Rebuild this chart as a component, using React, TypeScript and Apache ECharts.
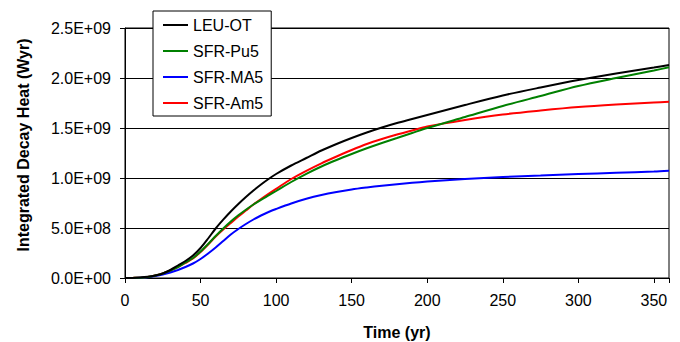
import React, { useEffect, useRef } from "react";
import * as echarts from "echarts";

// Time (yr)
const years = [0, 5, 10, 15, 20, 25, 30, 35, 40, 45, 50, 55, 60, 65, 70, 75, 80, 85, 90, 95, 100, 110, 120, 130, 140, 150, 160, 170, 180, 190, 200, 225, 250, 275, 300, 325, 350, 360];

// Integrated decay heat, in units of 1E+09 Wyr
const leuOT = [0, 0.001, 0.005, 0.012, 0.025, 0.045, 0.08, 0.125, 0.17, 0.225, 0.3, 0.395, 0.495, 0.583, 0.665, 0.74, 0.81, 0.875, 0.935, 0.99, 1.04, 1.125, 1.2, 1.275, 1.34, 1.4, 1.455, 1.505, 1.55, 1.59, 1.63, 1.73, 1.825, 1.905, 1.98, 2.045, 2.105, 2.13];
const sfrPu5 = [0, 0.001, 0.003, 0.01, 0.025, 0.045, 0.075, 0.11, 0.155, 0.2, 0.265, 0.34, 0.42, 0.495, 0.565, 0.627, 0.683, 0.735, 0.782, 0.826, 0.87, 0.96, 1.042, 1.115, 1.18, 1.24, 1.297, 1.35, 1.4, 1.45, 1.5, 1.61, 1.72, 1.82, 1.92, 2.0, 2.075, 2.107];
const sfrMA5 = [0, 0.0005, 0.002, 0.008, 0.02, 0.035, 0.055, 0.08, 0.11, 0.145, 0.19, 0.245, 0.305, 0.37, 0.435, 0.49, 0.54, 0.585, 0.625, 0.66, 0.69, 0.745, 0.792, 0.83, 0.86, 0.885, 0.905, 0.923, 0.938, 0.952, 0.964, 0.99, 1.01, 1.025, 1.04, 1.052, 1.065, 1.073];
const sfrAm5 = [0, 0.001, 0.003, 0.01, 0.025, 0.045, 0.075, 0.11, 0.15, 0.195, 0.26, 0.335, 0.415, 0.485, 0.55, 0.615, 0.675, 0.735, 0.79, 0.842, 0.892, 0.99, 1.072, 1.147, 1.215, 1.28, 1.34, 1.39, 1.435, 1.475, 1.515, 1.58, 1.635, 1.675, 1.71, 1.735, 1.755, 1.763];

const seriesNames = ["LEU-OT", "SFR-Pu5", "SFR-MA5", "SFR-Am5"];
const seriesColors = ["#000000", "#008000", "#0000FF", "#FF0000"];
const seriesValues = [leuOT, sfrPu5, sfrMA5, sfrAm5];

const xTitle = "Time (yr)";
const yTitle = "Integrated Decay Heat (Wyr)";

const FONT = "Liberation Sans";

function sci(v: number): string {
  if (v === 0) return "0.0E+00";
  const e = Math.floor(Math.log10(Math.abs(v)) + 1e-9);
  const m = v / Math.pow(10, e);
  const es = (e < 0 ? "-" : "+") + String(Math.abs(e)).padStart(2, "0");
  return m.toFixed(1) + "E" + es;
}

export default function App() {
  const ref = useRef<HTMLDivElement>(null);
  useEffect(() => {
    if (!ref.current) return;
    const chart = echarts.init(ref.current, null, { renderer: "svg" });
    chart.setOption({
      animation: false,
      backgroundColor: "#ffffff",
      textStyle: { fontFamily: FONT, fontSize: 16 },
      grid: {
        left: 125,
        right: 11,
        top: 28,
        bottom: 64,
        show: true,
        borderColor: "#000",
        borderWidth: 1,
        backgroundColor: "transparent",
      },
      legend: {
        orient: "vertical",
        left: 153,
        top: 11,
        padding: [6, 8, 5, 9],
        itemGap: 10,
        itemWidth: 25,
        itemHeight: 14,
        itemStyle: { opacity: 0 },
        backgroundColor: "#fff",
        borderColor: "#000",
        borderWidth: 1,
        borderRadius: 0,
        data: seriesNames.map((n) => ({ name: n })),
        textStyle: { fontFamily: FONT, fontSize: 16, color: "#000" },
        itemTextGap: 5,
      },
      xAxis: {
        type: "value",
        min: 0,
        max: 360,
        interval: 50,
        axisLine: { show: true, lineStyle: { color: "#000", width: 1 } },
        axisTick: { show: true, inside: false, length: 5, lineStyle: { color: "#000" } },
        axisLabel: {
          fontFamily: FONT,
          fontSize: 16,
          color: "#000",
          margin: 14,
          formatter: (v: number) => (v % 50 === 0 ? String(v) : ""),
        },
        splitLine: { show: false },
      },
      yAxis: {
        type: "value",
        min: 0,
        max: 2.5e9,
        interval: 0.5e9,
        axisLine: { show: true, lineStyle: { color: "#000", width: 1 } },
        axisTick: { show: true, inside: false, length: 5, lineStyle: { color: "#000" } },
        axisLabel: {
          fontFamily: FONT,
          fontSize: 16,
          color: "#000",
          margin: 14,
          formatter: (v: number) => sci(v),
        },
        splitLine: { show: true, lineStyle: { color: "#000", width: 1 } },
      },
      graphic: [
        {
          type: "text",
          x: 397,
          y: 332,
          style: {
            text: xTitle,
            fontFamily: FONT,
            fontSize: 16,
            fontWeight: "bold",
            fill: "#000",
            textAlign: "center",
            textVerticalAlign: "middle",
          },
        },
        {
          type: "text",
          x: 23,
          y: 145,
          rotation: Math.PI / 2,
          style: {
            text: yTitle,
            fontFamily: FONT,
            fontSize: 16,
            fontWeight: "bold",
            fill: "#000",
            textAlign: "center",
            textVerticalAlign: "middle",
          },
        },
      ],
      series: seriesNames.map((name, i) => ({
        name,
        type: "line",
        smooth: 0.3,
        symbol: "none",
        showSymbol: false,
        lineStyle: { color: seriesColors[i], width: 2 },
        itemStyle: { color: seriesColors[i] },
        z: 10 - i,
        data: years.map((t, k) => [t, seriesValues[i][k] * 1e9]),
      })),
    });
    return () => chart.dispose();
  }, []);
  return (
    <div
      ref={ref}
      style={{ position: "fixed", left: 0, top: 0, width: 680, height: 342 }}
    />
  );
}
